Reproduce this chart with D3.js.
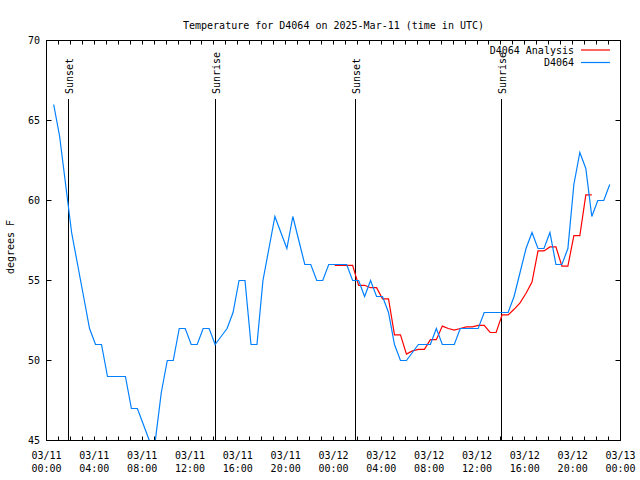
<!DOCTYPE html>
<html>
<head>
<meta charset="utf-8">
<script src="https://cdn.jsdelivr.net/npm/d3@7"></script>
<style>
  html, body { margin: 0; padding: 0; background: #fff; }
  svg { display: block; }
  text { font-family: "DejaVu Sans Mono", monospace; font-size: 10px; fill: #000; }
</style>
</head>
<body>
<svg id="chart" width="640" height="480"></svg>
<script>
// ---- data ----
const titleText = "Temperature for D4064 on 2025-Mar-11 (time in UTC)";
const yLabel = "degrees F";
const xDomain = ["2025-03-11T00:00:00Z", "2025-03-13T00:00:00Z"];
const yDomain = [45, 70];
const yTicks = [45, 50, 55, 60, 65, 70];

const seriesNames = ["D4064 Analysis", "D4064"];
const seriesColors = ["#ff0000", "#0080ff"];

// D4064 observations, every 30 minutes starting at 00:36 UTC on 03/11
const obsStart = "2025-03-11T00:36:00Z";
const obsStepMinutes = 30;
const obsValues = [
  66, 64, 61, 58, 56, 54, 52, 51, 51, 49,
  49, 49, 49, 47, 47, 46, 45, 45, 48, 50,
  50, 52, 52, 51, 51, 52, 52, 51, 51.5, 52,
  53, 55, 55, 51, 51, 55, 57, 59, 58, 57,
  59, 57.5, 56, 56, 55, 55, 56, 56, 56, 56,
  55, 55, 54, 55, 54, 54, 53, 51, 50, 50,
  50.5, 51, 51, 51, 52, 51, 51, 51, 52, 52,
  52, 52, 53, 53, 53, 53, 53, 54, 55.5, 57,
  58, 57, 57, 58, 56, 56, 57, 61, 63, 62,
  59, 60, 60, 61
];

// D4064 Analysis, every 30 minutes starting at 00:06 UTC on 03/12
const anaStart = "2025-03-12T00:06:00Z";
const anaStepMinutes = 30;
const anaValues = [
  55.95, 55.95, 55.95, 55.95, 54.7, 54.7, 54.55, 54.55, 53.85, 53.85,
  51.6, 51.6, 50.4, 50.6, 50.7, 50.7, 51.3, 51.3, 52.15, 52.0,
  51.9, 52.0, 52.1, 52.1, 52.2, 52.2, 51.75, 51.75, 52.85, 52.85,
  53.2, 53.6, 54.2, 54.9, 56.85, 56.85, 57.1, 57.1, 55.9, 55.9,
  57.8, 57.8, 60.35, 60.35
];

const sunTimes = ["2025-03-11T01:52:00Z", "2025-03-11T14:10:00Z", "2025-03-12T01:51:00Z", "2025-03-12T14:04:00Z"];
const sunLabels = ["Sunset", "Sunrise", "Sunset", "Sunrise"];

// ---- build ----
const svg = d3.select("#chart");
const L = 46.5, R = 620.5, T = 40.5, B = 440.5;

const x = d3.scaleUtc().domain(xDomain.map(d => new Date(d))).range([L, R]);
const y = d3.scaleLinear().domain(yDomain).range([B, T]);

function toSeries(start, stepMin, values) {
  const t0 = new Date(start).getTime();
  return values.map((v, i) => ({ t: new Date(t0 + i * stepMin * 60000), v }));
}
const obs = toSeries(obsStart, obsStepMinutes, obsValues);
const ana = toSeries(anaStart, anaStepMinutes, anaValues);

svg.append("defs").append("clipPath").attr("id", "plotclip")
  .append("rect").attr("x", L).attr("y", T).attr("width", R - L).attr("height", B - T);

// title
svg.append("text").attr("x", (L + R) / 2).attr("y", 28.5)
  .attr("text-anchor", "middle").text(titleText);

// y label
svg.append("text").attr("transform", "translate(14,247) rotate(-90)")
  .attr("text-anchor", "middle").text(yLabel);

// y ticks (left and right)
const gy = svg.append("g");
yTicks.forEach(v => {
  const yy = Math.round(y(v) - 0.5) + 0.5;
  gy.append("line").attr("x1", L).attr("x2", L + 5).attr("y1", yy).attr("y2", yy).attr("stroke", "#000");
  gy.append("line").attr("x1", R - 5).attr("x2", R).attr("y1", yy).attr("y2", yy).attr("stroke", "#000");
  gy.append("text").attr("x", 40).attr("y", yy).attr("dy", "0.35em")
    .attr("text-anchor", "end").text(v);
});

// x ticks: hourly minor, labels every 4 hours
const gx = svg.append("g");
const hours = d3.utcHour.range(x.domain()[0], d3.utcHour.offset(x.domain()[1], 1));
hours.forEach(h => {
  const xx = Math.round(x(h) - 0.5) + 0.5;
  gx.append("line").attr("x1", xx).attr("x2", xx).attr("y1", B).attr("y2", B - 4).attr("stroke", "#000");
  gx.append("line").attr("x1", xx).attr("x2", xx).attr("y1", T).attr("y2", T + 4).attr("stroke", "#000");
});
const fmtDate = d3.utcFormat("%m/%d"), fmtTime = d3.utcFormat("%H:%M");
x.ticks(d3.utcHour.every(4)).forEach(h => {
  const t = gx.append("text").attr("x", x(h)).attr("y", 458.5).attr("text-anchor", "middle");
  t.append("tspan").attr("x", x(h)).text(fmtDate(h));
  t.append("tspan").attr("x", x(h)).attr("dy", 13.5).text(fmtTime(h));
});

// sunrise / sunset lines
sunTimes.forEach((s, i) => {
  const xx = Math.round(x(new Date(s)) - 0.5) + 0.5;
  svg.append("line").attr("x1", xx).attr("x2", xx).attr("y1", 99).attr("y2", B)
    .attr("stroke", "#000").attr("stroke-width", 1);
  svg.append("text").attr("transform", `translate(${xx + 4},94) rotate(-90)`)
    .attr("text-anchor", "start").text(sunLabels[i]);
});

// lines
const line = d3.line().x(d => x(d.t)).y(d => y(d.v));
const plot = svg.append("g").attr("clip-path", "url(#plotclip)");
[ana, obs].forEach((data, i) => {
  plot.append("path").datum(data).attr("d", line)
    .attr("fill", "none").attr("stroke", seriesColors[i]).attr("stroke-width", 1.2)
    .attr("stroke-linejoin", "miter");
});

// frame
svg.append("rect").attr("x", L).attr("y", T).attr("width", R - L).attr("height", B - T)
  .attr("fill", "none").attr("stroke", "#000");

// legend
seriesNames.forEach((name, i) => {
  const yy = 50 + i * 12.5;
  svg.append("text").attr("x", 574).attr("y", yy).attr("dy", "0.35em")
    .attr("text-anchor", "end").text(name);
  svg.append("line").attr("x1", 581).attr("x2", 610).attr("y1", yy).attr("y2", yy)
    .attr("stroke", seriesColors[i]).attr("stroke-width", 1.2);
});
</script>
</body>
</html>
